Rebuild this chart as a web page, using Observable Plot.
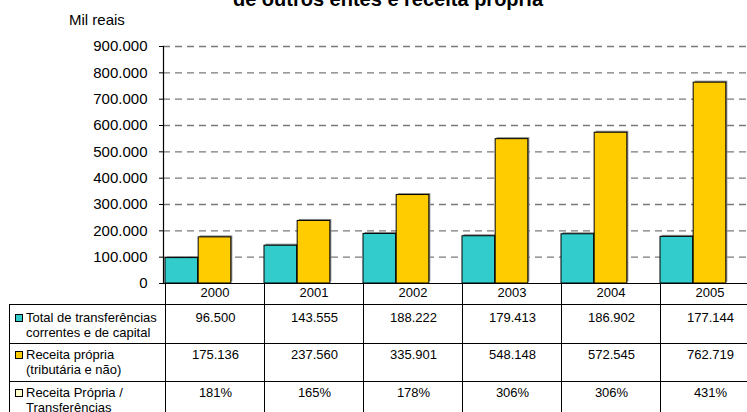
<!DOCTYPE html>
<html><head><meta charset="utf-8">
<script src="https://cdn.jsdelivr.net/npm/d3@7"></script>
<script src="https://cdn.jsdelivr.net/npm/@observablehq/plot@0.6"></script>
<style>
body{margin:0;background:#fff;overflow:hidden;}
#wrap{position:relative;width:747px;height:412px;overflow:hidden;background:#fff;font-family:"Liberation Sans",Arial,sans-serif;color:#000;}
#wrap svg{position:absolute;left:0;top:0;}
.t{position:absolute;white-space:nowrap;}
.c{position:absolute;box-sizing:border-box;font-size:13px;line-height:15.5px;white-space:nowrap;}
.sw{position:absolute;box-sizing:border-box;width:8px;height:8px;border:1px solid #000;}
</style></head><body><div id="wrap"></div>
<script>
const years = ["2000","2001","2002","2003","2004","2005"];
const transferencias = [96500,143555,188222,179413,186902,177144];
const receitaPropria = [175136,237560,335901,548148,572545,762719];
const razao = ["181%","165%","178%","306%","306%","431%"];
const yTicks = [0,100000,200000,300000,400000,500000,600000,700000,800000,900000];
const rowLabels = [["Total de transferências","correntes e de capital"],["Receita própria","(tributária e não)"],["Receita Própria /","Transferências"]];
const colors = ["#33CCCC","#FFCC00","#FFFFCC"];
const titleText = "de outros entes e receita própria";
const yLabel = "Mil reais";

const fmt = d3.formatLocale({decimal: ",", thousands: ".", grouping: [3], currency: ["R$ ", ""]}).format(",d");

const W = 760, H = 412, ML = 163, MR = 0, MT = 46, MB = 129;
const bw = (W - ML - MR) / years.length;
const rows = years.map((y, i) => ({year: y, t: transferencias[i], r: receitaPropria[i]}));

const chart = Plot.plot({
  width: W, height: H,
  marginLeft: ML, marginRight: MR, marginTop: MT, marginBottom: MB,
  style: {fontFamily: "'Liberation Sans', Arial, sans-serif", maxWidth: "none", background: "transparent", color: "#000"},
  x: {domain: years, padding: 0, axis: null},
  y: {domain: [0, 900000], axis: null},
  marks: [
    Plot.ruleY(yTicks.filter(d => d > 0), {stroke: "#7a7a7a", strokeWidth: 1.3, strokeDasharray: "7,5"}),
    Plot.barY(rows, {x: "year", y: "t", fill: "#8a8a8a", insetRight: 2 * bw / 3, dx: 1.5, dy: -1.5}),
    Plot.barY(rows, {x: "year", y: "r", fill: "#8a8a8a", insetLeft: bw / 3, insetRight: bw / 3, dx: 1.5, dy: -1.5}),
    Plot.barY(rows, {x: "year", y: "t", fill: colors[0], stroke: "#000", strokeWidth: 1, insetRight: 2 * bw / 3}),
    Plot.barY(rows, {x: "year", y: "r", fill: colors[1], stroke: "#000", strokeWidth: 1, insetLeft: bw / 3, insetRight: bw / 3}),
    Plot.ruleY([0], {stroke: "#000", strokeWidth: 1.2}),
    Plot.frame({anchor: "left", stroke: "#000", strokeWidth: 1.2}),
    Plot.axisY(yTicks, {tickSize: 4, tickPadding: 12, tickFormat: fmt, fontSize: 15, stroke: "#000", fill: "#000"})
  ]
});

const wrap = document.getElementById("wrap");
wrap.appendChild(chart);

function div(cls, css, html) {
  const d = document.createElement("div");
  d.className = cls;
  Object.assign(d.style, css);
  if (html != null) d.innerHTML = html;
  wrap.appendChild(d);
  return d;
}

// title (second line, partly above the visible area) and unit label
div("t", {left: "0px", width: "776px", textAlign: "center", top: "-11px", fontSize: "20px", lineHeight: "20px", fontWeight: "bold"}, titleText);
div("t", {left: "69px", top: "12px", fontSize: "15px", lineHeight: "15px"}, yLabel);

// data table below the chart, columns from the Plot x scale
const xs = chart.scale("x");
const colLeft = y => xs.apply(y);
const band = xs.bandwidth;
const headTop = 283, headH = 21;
const rowTops = [304, 343.3, 380.7];
const rowHs = [39.3, 37.4, 45];
const pads = [4.7, 2.3, 3];
const labLeft = 9;

years.forEach(y => {
  div("c", {left: colLeft(y) + "px", top: headTop + "px", width: band + "px", height: headH + "px", borderLeft: "1px solid #000", textAlign: "center", paddingTop: "2px"}, y);
});
const vals = [transferencias.map(fmt), receitaPropria.map(fmt), razao];
rowTops.forEach((top, r) => {
  div("c", {left: labLeft + "px", top: top + "px", width: (colLeft(years[0]) - labLeft) + "px", height: rowHs[r] + "px", borderLeft: "1px solid #000", borderTop: "1px solid #000", paddingTop: pads[r] + "px", paddingLeft: "16px"}, rowLabels[r].join("<br>"));
  const swTop = [10, 7.7, 8.6][r];
  div("sw", {left: "15px", top: (top + swTop) + "px", background: colors[r]});
  years.forEach((y, i) => {
    div("c", {left: colLeft(y) + "px", top: top + "px", width: (band + 1) + "px", height: rowHs[r] + "px", borderLeft: "1px solid #000", borderTop: "1px solid #000", textAlign: "center", paddingTop: pads[r] + "px"}, vals[r][i]);
  });
});
</script></body></html>
